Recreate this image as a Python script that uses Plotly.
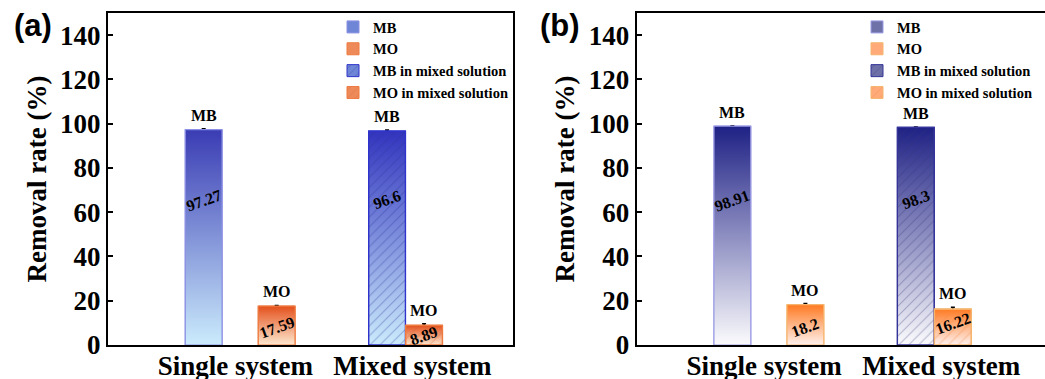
import plotly.graph_objects as go

# ---------------- data ----------------
categories = ["Single system", "Mixed system"]
series_names = ["MB", "MO", "MB in mixed solution", "MO in mixed solution"]
short_labels = ["MB", "MO", "MB", "MO"]
series_category = ["Single system", "Single system", "Mixed system", "Mixed system"]
mixed_flags = [False, False, True, True]

values_a = [97.27, 17.59, 96.6, 8.89]
errors_a = [0.4, 0.3, 0.5, 0.7]
values_b = [98.91, 18.2, 98.3, 16.22]
errors_b = [0.2, 0.5, 0.2, 0.8]
value_text_a = ["97.27", "17.59", "96.6", "8.89"]
value_text_b = ["98.91", "18.2", "98.3", "16.22"]

y_ticks = [0, 20, 40, 60, 80, 100, 120, 140]
panel_tags = ["(a)", "(b)"]
y_title = "Removal rate (%)"

# ---------------- style ----------------
bar_offsets = [-0.2836, 0.1288, -0.2475, -0.0384]   # left edge relative to category
bar_width = 0.208
label_frac_a = [0.67, 0.45, 0.68, 0.46]
label_frac_b = [0.66, 0.43, 0.67, 0.60]

top_a = ["#3A3CB4", "#E4501C", "#3234BE", "#E4501C"]
bot_a = ["#CBEBFC", "#FDE8CF", "#CBEBFC", "#FDE8CF"]
edge_a = ["#8C90E4", "#EE7A40", "#3034CC", "#EE7A40"]
mid_a = ["#6F86D6", "#EE8A5A", "#6F86D6", "#EE8A5A"]
hatch_a = ["", "", "rgba(40,50,150,0.7)", "rgba(205,95,45,0.7)"]

top_b = ["#1F2185", "#FF7A22", "#1F2185", "#FF7A22"]
bot_b = ["#FBFBFD", "#FFF1EE", "#FBFBFD", "#FFF1EE"]
edge_b = ["#9C9CE6", "#F5B56E", "#34349A", "#F5B56E"]
mid_b = ["#6E70A8", "#FFAA78", "#6E70A8", "#FFAA78"]
hatch_b = ["", "", "rgba(50,50,115,0.65)", "rgba(235,135,70,0.75)"]

SERIF = "Liberation Serif"
W, H = 1045, 379

fig = go.Figure()

panels = [
    dict(vals=values_a, errs=errors_a, texts=value_text_a, frac=label_frac_a,
         top=top_a, bot=bot_a, edge=edge_a, mid=mid_a, hatch=hatch_a,
         xa="x", ya="y", legend="legend"),
    dict(vals=values_b, errs=errors_b, texts=value_text_b, frac=label_frac_b,
         top=top_b, bot=bot_b, edge=edge_b, mid=mid_b, hatch=hatch_b,
         xa="x2", ya="y2", legend="legend2"),
]

annotations = []
for p in panels:
    for i, name in enumerate(series_names):
        cpos = categories.index(series_category[i])
        v = p["vals"][i]
        e = p["errs"][i]
        x0 = cpos + bar_offsets[i]
        x1 = x0 + bar_width
        xc = (x0 + x1) / 2
        pattern = dict(shape="/", fgcolor=p["hatch"][i] or "rgba(0,0,0,0)",
                       size=7, solidity=0.15) if mixed_flags[i] else None
        # data bar (legend entry, error bar)
        fig.add_trace(go.Bar(
            x=[cpos], y=[v], name=name, width=bar_width, offset=bar_offsets[i],
            marker=dict(color=p["mid"][i], line=dict(color=p["edge"][i], width=1),
                        pattern=pattern),
            error_y=dict(type="data", array=[e], color="black", thickness=1.5, width=2),
            xaxis=p["xa"], yaxis=p["ya"], legend=p["legend"], showlegend=True,
        ))
        # gradient body drawn over the bar
        fig.add_trace(go.Scatter(
            x=[x0, x0, x1, x1, x0], y=[0, v, v, 0, 0], mode="lines",
            fill="toself",
            fillgradient=dict(type="vertical",
                              colorscale=[[0, p["bot"][i]], [1, p["top"][i]]]),
            line=dict(color=p["edge"][i], width=1.2),
            xaxis=p["xa"], yaxis=p["ya"], showlegend=False, hoverinfo="skip",
        ))
        if mixed_flags[i]:
            fig.add_trace(go.Scatter(
                x=[x0, x0, x1, x1, x0], y=[0, v, v, 0, 0], mode="lines",
                fill="toself", fillcolor="rgba(0,0,0,0)",
                fillpattern=dict(shape="/", fgcolor=p["hatch"][i],
                                 bgcolor="rgba(0,0,0,0)", size=7, solidity=0.15),
                line=dict(color=p["edge"][i], width=1.2),
                xaxis=p["xa"], yaxis=p["ya"], showlegend=False, hoverinfo="skip",
            ))
        # short label above
        annotations.append(dict(
            x=xc, y=v + e, xref=p["xa"], yref=p["ya"], text=short_labels[i],
            showarrow=False, yanchor="bottom", yshift=3,
            font=dict(family=SERIF, size=16, color="black", weight="bold"),
        ))
        # rotated value label
        annotations.append(dict(
            x=xc, y=v * p["frac"][i], xref=p["xa"], yref=p["ya"], text=p["texts"][i],
            showarrow=False, textangle=-20,
            font=dict(family=SERIF, size=16, color="black", weight="bold"),
        ))

# panel tags
for tag, xp in zip(panel_tags, [33, 560]):
    annotations.append(dict(
        x=xp / W, y=1 - 25 / H, xref="paper", yref="paper", text=tag,
        showarrow=False, xanchor="center", yanchor="middle",
        font=dict(family="Liberation Sans", size=31, color="black", weight="bold"),
    ))

ydom = [(H - 345) / H, (H - 13) / H]
axis_common = dict(showline=True, linecolor="black", linewidth=2, showgrid=False,
                   zeroline=False, automargin=False)
xcommon = dict(axis_common, tickmode="array", tickvals=list(range(len(categories))),
               ticktext=categories, ticks="", ticklabelstandoff=-4,
               tickfont=dict(family=SERIF, size=27, color="black", weight="bold"))
ycommon = dict(axis_common, range=[0, 150], tickmode="array", tickvals=y_ticks,
               ticks="inside", ticklen=5, tickwidth=2, tickcolor="black",
               tickfont=dict(family=SERIF, size=27, color="black", weight="bold"),
               title=dict(text=y_title, standoff=6,
                          font=dict(family=SERIF, size=27, color="black", weight="bold")))

legend_common = dict(xanchor="left", yanchor="top", bgcolor="rgba(0,0,0,0)",
                     font=dict(family=SERIF, size=14.5, color="black", weight="bold"),
                     tracegroupgap=0, itemwidth=30)

fig.update_layout(
    width=W, height=H, margin=dict(l=0, r=0, t=0, b=0, autoexpand=False),
    paper_bgcolor="white", plot_bgcolor="white",
    barmode="overlay", showlegend=True,
    xaxis=dict(xcommon, domain=[108 / W, 513 / W], range=[-0.720, 1.568],
               mirror=True, anchor="y"),
    yaxis=dict(ycommon, domain=ydom, mirror=True, anchor="x"),
    xaxis2=dict(xcommon, domain=[636.7 / W, 1.0], range=[-0.720, 1.586],
                mirror=True, anchor="y2"),
    yaxis2=dict(ycommon, domain=ydom, mirror=False, anchor="x2"),
    legend=dict(legend_common, x=333 / W, y=1 - 11 / H),
    legend2=dict(legend_common, x=857 / W, y=1 - 11 / H),
    annotations=annotations,
)

fig.write_html("out.html")
